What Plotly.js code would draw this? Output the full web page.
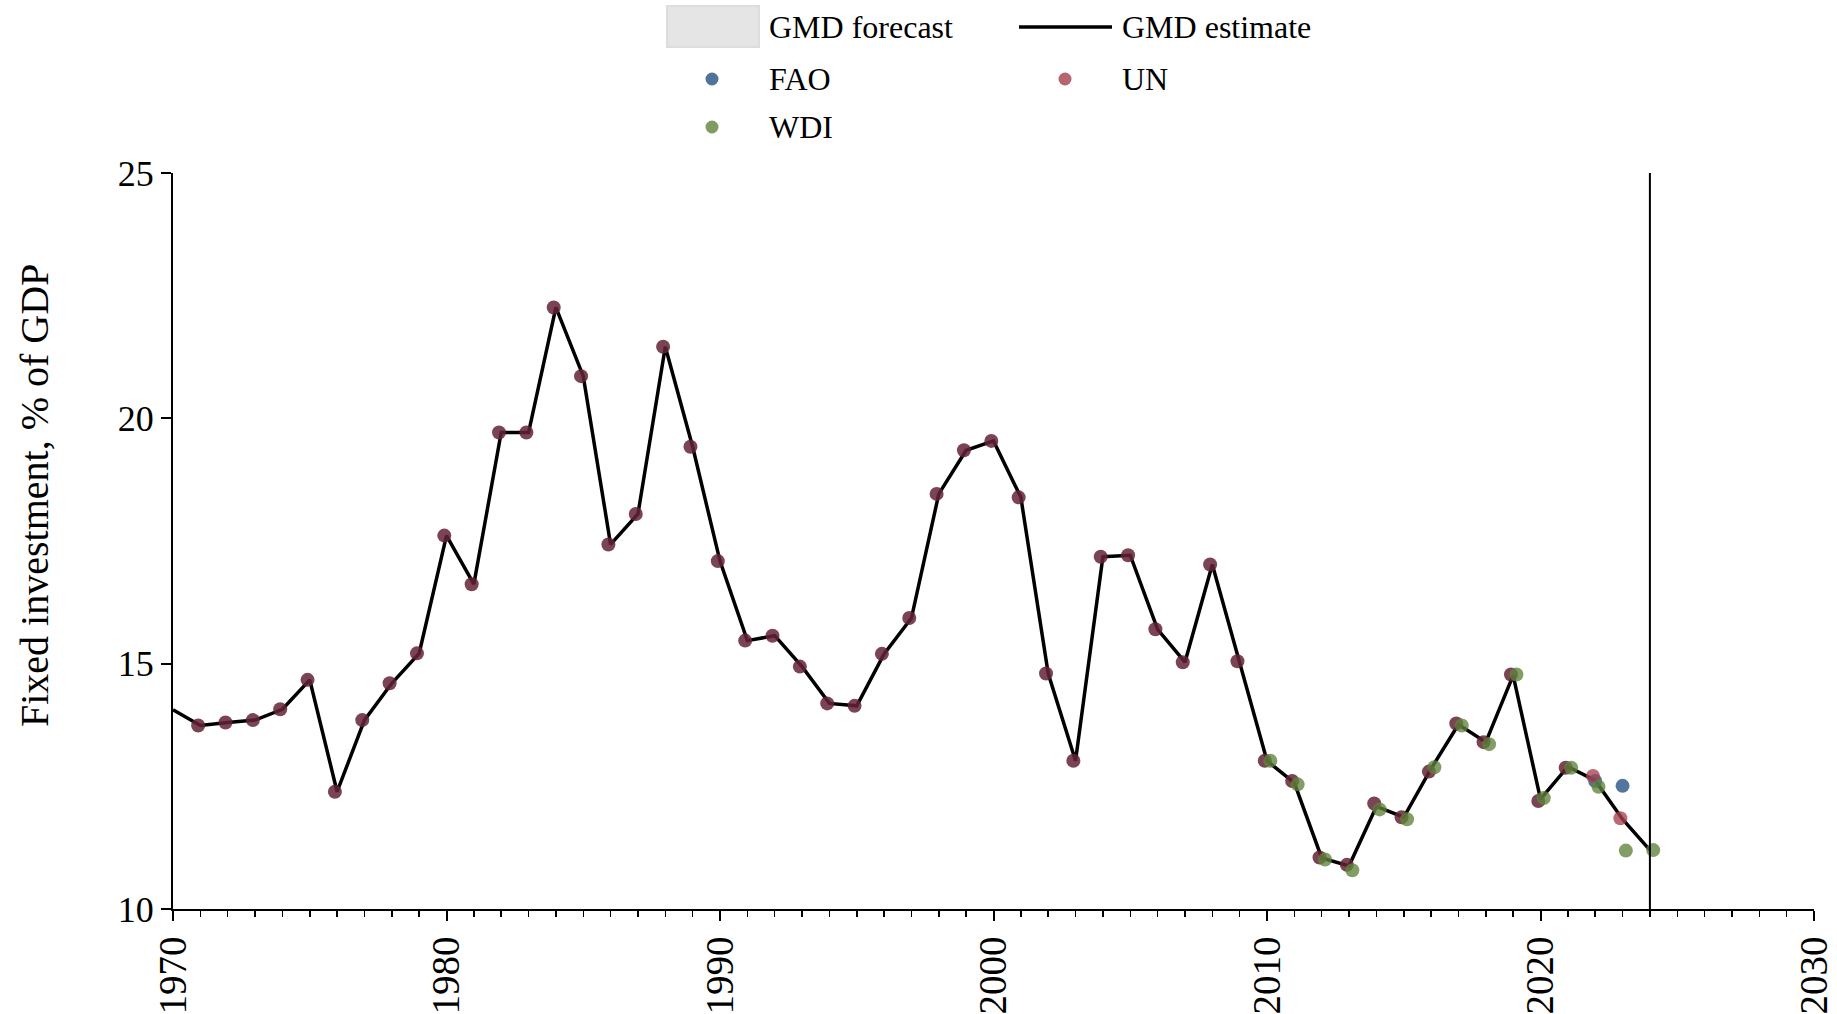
<!DOCTYPE html>
<html>
<head>
<meta charset="utf-8">
<script src="https://cdn.plot.ly/plotly-3.0.1.min.js"></script>
<style>
  html, body { margin: 0; padding: 0; background: #ffffff; }
  #chart { width: 1837px; height: 1014px; }
</style>
</head>
<body>
<div id="chart"></div>
<script>
// ---------------- DATA ----------------
const gmdYears = [1970,1971,1972,1973,1974,1975,1976,1977,1978,1979,
                  1980,1981,1982,1983,1984,1985,1986,1987,1988,1989,
                  1990,1991,1992,1993,1994,1995,1996,1997,1998,1999,
                  2000,2001,2002,2003,2004,2005,2006,2007,2008,2009,
                  2010,2011,2012,2013,2014,2015,2016,2017,2018,2019,
                  2020,2021,2022,2023,2024];
const gmdEstimate = [14.06,13.74,13.80,13.85,14.07,14.67,12.39,13.85,14.60,15.21,
                     17.61,16.62,19.71,19.71,22.26,20.86,17.43,18.05,21.46,19.42,
                     17.09,15.47,15.57,14.94,14.19,14.14,15.20,15.93,18.46,19.35,
                     19.54,18.39,14.80,13.02,17.18,17.21,15.70,15.03,17.02,15.05,
                     13.02,12.57,11.04,10.88,12.09,11.87,12.86,13.76,13.40,14.76,
                     12.24,12.90,12.62,11.83,11.20];

const unYears = [1970,1971,1972,1973,1974,1975,1976,1977,1978,1979,
                 1980,1981,1982,1983,1984,1985,1986,1987,1988,1989,
                 1990,1991,1992,1993,1994,1995,1996,1997,1998,1999,
                 2000,2001,2002,2003,2004,2005,2006,2007,2008,2009,
                 2010,2011,2012,2013,2014,2015,2016,2017,2018,2019,
                 2020,2021,2022,2023];
const unValues = [14.06,13.74,13.80,13.85,14.07,14.67,12.39,13.85,14.60,15.21,
                  17.61,16.62,19.71,19.71,22.26,20.86,17.43,18.05,21.46,19.42,
                  17.09,15.47,15.57,14.94,14.19,14.14,15.20,15.93,18.46,19.35,
                  19.54,18.39,14.80,13.02,17.18,17.21,15.70,15.03,17.02,15.05,
                  13.02,12.61,11.05,10.90,12.15,11.87,12.80,13.78,13.40,14.78,
                  12.20,12.88,12.71,11.85];

const wdiYears = [2010,2011,2012,2013,2014,2015,2016,2017,2018,2019,2020,2021,2022,2023,2024];
const wdiValues = [13.02,12.54,11.01,10.79,12.03,11.83,12.89,13.74,13.36,14.78,12.26,12.88,12.49,11.19,11.20];

const faoYears = [2022,2023];
const faoValues = [12.61,12.51];

const forecastStart = 2024;
const xTickVals = [1970,1980,1990,2000,2010,2020,2030];
const yTickVals = [10,15,20,25];

// ---------------- STYLE ----------------
const FONT = '"Liberation Serif", "Times New Roman", Times, serif';
const UN_DARK = 'rgba(100,35,55,0.85)';
const UN_LIGHT = 'rgba(165,65,80,0.78)';
const WDI_COL = 'rgba(95,131,59,0.78)';
const FAO_COL = 'rgba(35,80,129,0.78)';
const UN_LEG = '#b4656f';
const WDI_LEG = '#7f9c62';
const FAO_LEG = '#4f739a';

const W = 1837, H = 1014;
const M = {l: 173, r: 23, t: 173, b: 105};
const PW = W - M.l - M.r, PH = H - M.t - M.b;
const px = v => (v - M.l) / PW;        // pixel x -> paper
const py = v => (H - M.b - v) / PH;    // pixel y -> paper

const unOffset = -0.08, wdiOffset = 0.12;

const traces = [
  {
    x: gmdYears, y: gmdEstimate, type: 'scatter', mode: 'lines', name: 'GMD estimate',
    line: {color: '#000000', width: 3.5}, showlegend: false, hoverinfo: 'x+y'
  },
  {
    x: faoYears, y: faoValues, type: 'scatter', mode: 'markers', name: 'FAO',
    marker: {size: 14, color: FAO_COL}, cliponaxis: false, showlegend: false
  },
  {
    x: unYears.map(v => v + unOffset), y: unValues, type: 'scatter', mode: 'markers', name: 'UN',
    marker: {size: 14, color: unYears.map(v => v <= 2021 ? UN_DARK : UN_LIGHT)},
    cliponaxis: false, showlegend: false
  },
  {
    x: wdiYears.map(v => v + wdiOffset), y: wdiValues, type: 'scatter', mode: 'markers', name: 'WDI',
    marker: {size: 14, color: WDI_COL}, cliponaxis: false, showlegend: false
  }
];

function circle(cx, cy, r, color) {
  return {type: 'circle', xref: 'paper', yref: 'paper',
          x0: px(cx - r), x1: px(cx + r), y0: py(cy + r), y1: py(cy - r),
          fillcolor: color, line: {width: 0}};
}

const shapes = [
  {type: 'line', xref: 'x', yref: 'paper', x0: forecastStart, x1: forecastStart, y0: 0, y1: 1,
   line: {color: '#000000', width: 2}},
  // legend symbols
  {type: 'rect', xref: 'paper', yref: 'paper', x0: px(667), x1: px(759), y0: py(47), y1: py(6),
   fillcolor: '#e5e5e5', line: {color: '#dddddd', width: 2}},
  {type: 'line', xref: 'paper', yref: 'paper', x0: px(1019), x1: px(1112), y0: py(27), y1: py(27),
   line: {color: '#000000', width: 3.5}},
  circle(712, 79, 6.5, FAO_LEG),
  circle(1065, 79, 6.5, UN_LEG),
  circle(712, 127, 6.5, WDI_LEG)
];

function legText(t, x, y) {
  return {text: t, xref: 'paper', yref: 'paper', x: px(x), y: py(y),
          xanchor: 'left', yanchor: 'middle', showarrow: false,
          font: {family: FONT, size: 32, color: '#000000'}};
}

const annotations = [
  legText('GMD forecast', 767, 27),
  legText('GMD estimate', 1120, 27),
  legText('FAO', 767, 79),
  legText('UN', 1120, 79),
  legText('WDI', 767, 127),
  {text: 'Fixed investment, % of GDP', xref: 'paper', yref: 'paper',
   x: px(34), y: py(496), xanchor: 'center', yanchor: 'middle', textangle: -90,
   showarrow: false, font: {family: FONT, size: 40, color: '#000000'}}
];

const layout = {
  width: W, height: H,
  margin: M,
  paper_bgcolor: '#ffffff', plot_bgcolor: '#ffffff',
  font: {family: FONT, color: '#000000'},
  showlegend: false,
  xaxis: {
    range: [1970, 2030], tickmode: 'array', tickvals: xTickVals, ticktext: xTickVals.map(String),
    ticks: 'outside', ticklen: 10, tickwidth: 2, tickcolor: '#000000',
    showline: true, linecolor: '#000000', linewidth: 2, mirror: false,
    showgrid: false, zeroline: false, tickangle: -90,
    tickfont: {family: FONT, size: 39, color: '#000000'},
    minor: {dtick: 1, tick0: 1970, ticks: 'outside', ticklen: 6, tickwidth: 1.5, tickcolor: '#000000', showgrid: false}
  },
  yaxis: {
    range: [10, 25], tickmode: 'array', tickvals: yTickVals, ticktext: yTickVals.map(String),
    ticks: 'outside', ticklen: 10, tickwidth: 2, tickcolor: '#000000',
    showline: true, linecolor: '#000000', linewidth: 2,
    showgrid: false, zeroline: false,
    tickfont: {family: FONT, size: 36, color: '#000000'}
  },
  shapes: shapes,
  annotations: annotations
};

Plotly.newPlot('chart', traces, layout, {displayModeBar: false, staticPlot: true});
</script>
</body>
</html>
